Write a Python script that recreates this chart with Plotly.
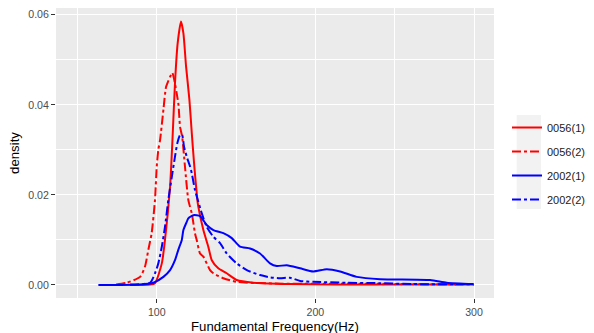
import plotly.graph_objects as go

# ---- data ----
series_names = ["0056(1)", "0056(2)", "2002(1)", "2002(2)"]

x_0056_1 = [83.2, 95.8, 98.9, 103.2, 105.2, 108.4, 110.1, 111.5, 113.2, 115.3, 116.8, 118.5,
            120.6, 122.1, 123.7, 125.6, 126.2, 129.4, 132.5, 134.7, 138.8, 144.1, 150.4,
            160.9, 184.0, 240.8, 300.0]
y_0056_1 = [0.0, 0.0001, 0.0004, 0.0048, 0.0100, 0.0218, 0.0337, 0.0448, 0.0537, 0.0585, 0.0559,
            0.0485, 0.0411, 0.0337, 0.0263, 0.0189, 0.0174, 0.0122, 0.0085, 0.0055, 0.0037,
            0.0026, 0.0011, 0.0005, 0.0002, 0.0001, 0.0001]

x_0056_2 = [74.4, 81.1, 89.5, 92.6, 94.7, 96.8, 98.9, 100.0, 101.0, 102.1, 104.2, 105.9, 108.4,
            109.8, 113.6, 114.7, 116.0, 117.8, 119.9, 122.1, 124.1, 125.2, 127.3, 129.4,
            133.6, 135.7, 142.0, 150.4, 177.7, 221.9, 300.0]
y_0056_2 = [0.0001, 0.0005, 0.0018, 0.0041, 0.0078, 0.0115, 0.0189, 0.0263, 0.0300, 0.0322,
            0.0389, 0.0440, 0.0462, 0.0471, 0.0403, 0.0351, 0.0330, 0.0263, 0.0189, 0.0159,
            0.0115, 0.0100, 0.0070, 0.0063, 0.0033, 0.0026, 0.0015, 0.0007, 0.0003, 0.0003,
            0.0001]

x_2002_1 = [63.2, 89.5, 97.9, 104.2, 108.4, 111.5, 113.6, 115.8, 116.8, 118.9, 119.9, 123.1,
            127.3, 131.5, 135.7, 142.0, 147.3, 152.5, 158.8, 165.1, 171.4, 175.7, 182.0,
            190.4, 198.7, 207.2, 215.6, 226.1, 240.8, 272.3, 282.8, 299.6]
y_2002_1 = [0.0, 0.0001, 0.0005, 0.0018, 0.0033, 0.0055, 0.0078, 0.0100, 0.0122, 0.0140,
            0.0148, 0.0155, 0.0153, 0.0133, 0.0122, 0.0115, 0.0104, 0.0085, 0.0081, 0.0070,
            0.0048, 0.0042, 0.0044, 0.0037, 0.0030, 0.0035, 0.0030, 0.0018, 0.0013, 0.0011,
            0.0005, 0.0002]

x_2002_2 = [83.2, 95.8, 98.9, 101.0, 103.2, 105.2, 107.3, 109.5, 111.5, 113.0, 114.7, 116.0,
            117.2, 118.9, 121.0, 122.1, 124.1, 126.2, 128.4, 131.5, 135.7, 139.9, 144.1,
            150.4, 156.8, 165.1, 171.4, 177.7, 184.0, 190.4, 198.7, 219.8, 240.8, 261.8, 299.6]
y_2002_2 = [0.0001, 0.0005, 0.0026, 0.0048, 0.0085, 0.0129, 0.0189, 0.0240, 0.0285, 0.0315,
            0.0333, 0.0333, 0.0307, 0.0285, 0.0263, 0.0248, 0.0211, 0.0185, 0.0159, 0.0129,
            0.0107, 0.0093, 0.0070, 0.0048, 0.0033, 0.0022, 0.0017, 0.0015, 0.0016, 0.0009,
            0.0007, 0.0005, 0.0004, 0.0002, 0.0002]

xs = [x_0056_1, x_0056_2, x_2002_1, x_2002_2]
ys = [y_0056_1, y_0056_2, y_2002_1, y_2002_2]
colors = ["#FF0000", "#FF0000", "#0000FF", "#0000FF"]
dashes = ["solid", "dashdot", "solid", "dashdot"]

x_tick_vals = [100, 200, 300]
y_tick_vals = [0.00, 0.02, 0.04, 0.06]
x_title = "Fundamental Frequency(Hz)"
y_title = "density"

fig = go.Figure()
for name, x, y, c, d in zip(series_names, xs, ys, colors, dashes):
    fig.add_trace(go.Scatter(x=x, y=y, mode="lines", name=name, legendgroup=name,
                             line=dict(color=c, dash=d, width=2, shape="spline", smoothing=0.6)))

font = "Arial, Liberation Sans, sans-serif"
fig.update_layout(
    width=594, height=333,
    margin=dict(l=56, r=100, t=8, b=35, autoexpand=False),
    paper_bgcolor="white", plot_bgcolor="#EBEBEB",
    font=dict(family=font, size=11, color="#000000"),
    showlegend=True,
    legend=dict(xref="container", yref="container", x=507 / 594, y=1 - 113 / 333,
                xanchor="left", yanchor="top",
                bgcolor="rgba(0,0,0,0)", font=dict(size=11, color="#1A1A1A"),
                tracegroupgap=5, itemwidth=30),
    shapes=[dict(type="rect", xref="paper", yref="paper", x0=1.0518, x1=1.1073,
                 y0=0.307, y1=0.631, fillcolor="#F2F2F2", line=dict(width=0), layer="below")],
    annotations=[dict(text=x_title, xref="paper", yref="paper", x=0.5, y=-0.0986,
                      xanchor="center", yanchor="middle", showarrow=False,
                      font=dict(size=13.2, color="#000000"))],
)
fig.update_xaxes(range=[36.5, 312.6], tickvals=x_tick_vals, ticks="outside", ticklen=4,
                 tickcolor="#333333", tickfont=dict(size=10.6, color="#4D4D4D"),
                 showgrid=True, gridcolor="white", gridwidth=1.1, zeroline=False,
                 showline=False, automargin=False,
                 minor=dict(tickvals=[50, 150, 250], showgrid=True, gridcolor="white",
                            gridwidth=0.5, ticks=""))
fig.update_yaxes(range=[-0.00289, 0.0615], tickvals=y_tick_vals, tickformat=".2f",
                 ticks="outside", ticklen=4, tickcolor="#333333",
                 tickfont=dict(size=10.6, color="#4D4D4D"),
                 showgrid=True, gridcolor="white", gridwidth=1.1, zeroline=False,
                 showline=False, automargin=False,
                 minor=dict(tickvals=[0.01, 0.03, 0.05], showgrid=True, gridcolor="white",
                            gridwidth=0.5, ticks=""),
                 title=dict(text=y_title, font=dict(size=13.2), standoff=5))

fig.write_html("out.html")
